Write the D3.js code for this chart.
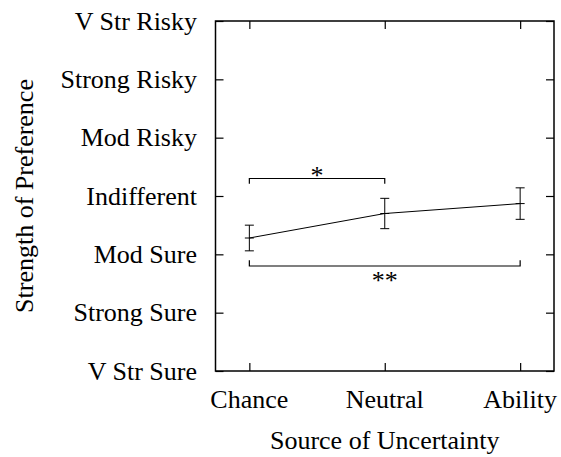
<!DOCTYPE html>
<html>
<head>
<meta charset="utf-8">
<script src="https://cdnjs.cloudflare.com/ajax/libs/d3/7.8.5/d3.min.js"></script>
<style>
  body { margin: 0; background: #fff; }
  text { font-family: "Liberation Serif", "Times New Roman", serif; fill: #000; }
</style>
</head>
<body>
<script>
//chart data
var sources = ["Chance", "Neutral", "Ability"];
var means = [-0.72, -0.30, -0.13];
var errors = [0.22, 0.26, 0.27];
var prefLabels = ["V Str Sure", "Strong Sure", "Mod Sure", "Indifferent", "Mod Risky", "Strong Risky", "V Str Risky"];
var prefValues = [-3, -2, -1, 0, 1, 2, 3];

//significance brackets: [from, to, level, tip level, stars]
var brackets = [
    ["Chance", "Neutral", 0.30, 0.21, "*"],
    ["Chance", "Ability", -1.2, -1.1, "**"]
];

//frame
var width = 561,
    height = 457;
var margin = {left: 215.5, right: 7, top: 21, bottom: 86};

var svg = d3.select("body")
    .append("svg")
    .attr("width", width)
    .attr("height", height);

var x = d3.scalePoint()
    .domain(sources)
    .range([margin.left, width - margin.right])
    .padding(0.25);

var y = d3.scaleLinear()
    .domain([-3, 3])
    .range([height - margin.bottom, margin.top]);

var fontSize = 26;

//axes with inward ticks on all four sides
svg.append("g")
    .attr("transform", "translate(0," + y(-3) + ")")
    .call(d3.axisBottom(x).tickSize(-8).tickFormat(""))
    .call(function(g){ g.select(".domain").remove(); });
svg.append("g")
    .attr("transform", "translate(0," + y(3) + ")")
    .call(d3.axisTop(x).tickSize(-8).tickFormat(""))
    .call(function(g){ g.select(".domain").remove(); });
svg.append("g")
    .attr("transform", "translate(" + x.range()[0] + ",0)")
    .call(d3.axisLeft(y).tickValues(prefValues).tickSize(-8).tickFormat(""))
    .call(function(g){ g.select(".domain").remove(); });
svg.append("g")
    .attr("transform", "translate(" + x.range()[1] + ",0)")
    .call(d3.axisRight(y).tickValues(prefValues).tickSize(-8).tickFormat(""))
    .call(function(g){ g.select(".domain").remove(); });
svg.selectAll(".tick line").attr("stroke", "#000").attr("stroke-width", 1.2);

//frame box
svg.append("rect")
    .attr("x", x.range()[0])
    .attr("y", y(3))
    .attr("width", x.range()[1] - x.range()[0])
    .attr("height", y(-3) - y(3))
    .attr("fill", "none")
    .attr("stroke", "#000")
    .attr("stroke-width", 1.5);

//tick labels
svg.selectAll(".ylab")
    .data(prefValues)
    .enter()
    .append("text")
    .attr("class", "ylab")
    .attr("x", 197)
    .attr("y", function(d){ return y(d); })
    .attr("dy", "0.33em")
    .attr("text-anchor", "end")
    .style("font-size", fontSize + "px")
    .text(function(d, i){ return prefLabels[i]; });

svg.selectAll(".xlab")
    .data(sources)
    .enter()
    .append("text")
    .attr("class", "xlab")
    .attr("x", function(d){ return x(d); })
    .attr("y", 408)
    .attr("text-anchor", "middle")
    .style("font-size", fontSize + "px")
    .text(function(d){ return d; });

//axis titles
svg.append("text")
    .attr("x", (x.range()[0] + x.range()[1]) / 2)
    .attr("y", 449)
    .attr("text-anchor", "middle")
    .style("font-size", fontSize + "px")
    .text("Source of Uncertainty");

svg.append("text")
    .attr("transform", "translate(33," + y(0) + ") rotate(-90)")
    .attr("text-anchor", "middle")
    .style("font-size", fontSize + "px")
    .text("Strength of Preference");

//data line
var line = d3.line()
    .x(function(d){ return x(d); })
    .y(function(d, i){ return y(means[i]); });

svg.append("path")
    .datum(sources)
    .attr("d", line)
    .attr("fill", "none")
    .attr("stroke", "#000")
    .attr("stroke-width", 1);

//error bars
var capW = 4.5;
var eb = svg.selectAll(".err")
    .data(sources)
    .enter()
    .append("g")
    .attr("class", "err")
    .attr("stroke", "#000")
    .attr("stroke-width", 1);
eb.append("line")
    .attr("x1", function(d){ return x(d); })
    .attr("x2", function(d){ return x(d); })
    .attr("y1", function(d, i){ return y(means[i] - errors[i]); })
    .attr("y2", function(d, i){ return y(means[i] + errors[i]); });
eb.append("line")
    .attr("x1", function(d){ return x(d) - capW; })
    .attr("x2", function(d){ return x(d) + capW; })
    .attr("y1", function(d, i){ return y(means[i] - errors[i]); })
    .attr("y2", function(d, i){ return y(means[i] - errors[i]); });
eb.append("line")
    .attr("x1", function(d){ return x(d) - capW; })
    .attr("x2", function(d){ return x(d) + capW; })
    .attr("y1", function(d, i){ return y(means[i] + errors[i]); })
    .attr("y2", function(d, i){ return y(means[i] + errors[i]); });
eb.append("line")
    .attr("x1", function(d){ return x(d) - capW; })
    .attr("x2", function(d){ return x(d) + capW; })
    .attr("y1", function(d, i){ return y(means[i]); })
    .attr("y2", function(d, i){ return y(means[i]); });

//significance brackets
brackets.forEach(function(b){
    var x1 = x(b[0]), x2 = x(b[1]), yl = y(b[2]), yt = y(b[3]);
    svg.append("path")
        .attr("d", d3.line()([[x1, yt], [x1, yl], [x2, yl], [x2, yt]]))
        .attr("fill", "none")
        .attr("stroke", "#000")
        .attr("stroke-width", 1.2);
    var above = b[3] < b[2];
    svg.append("text")
        .attr("x", above ? (x1 + x2) / 2 : x(sources[1]))
        .attr("y", above ? yl + 5 : yl + 23)
        .attr("text-anchor", "middle")
        .attr("fill", "#000")
        .style("font-size", fontSize + "px")
        .text(b[4]);
});
</script>
</body>
</html>
